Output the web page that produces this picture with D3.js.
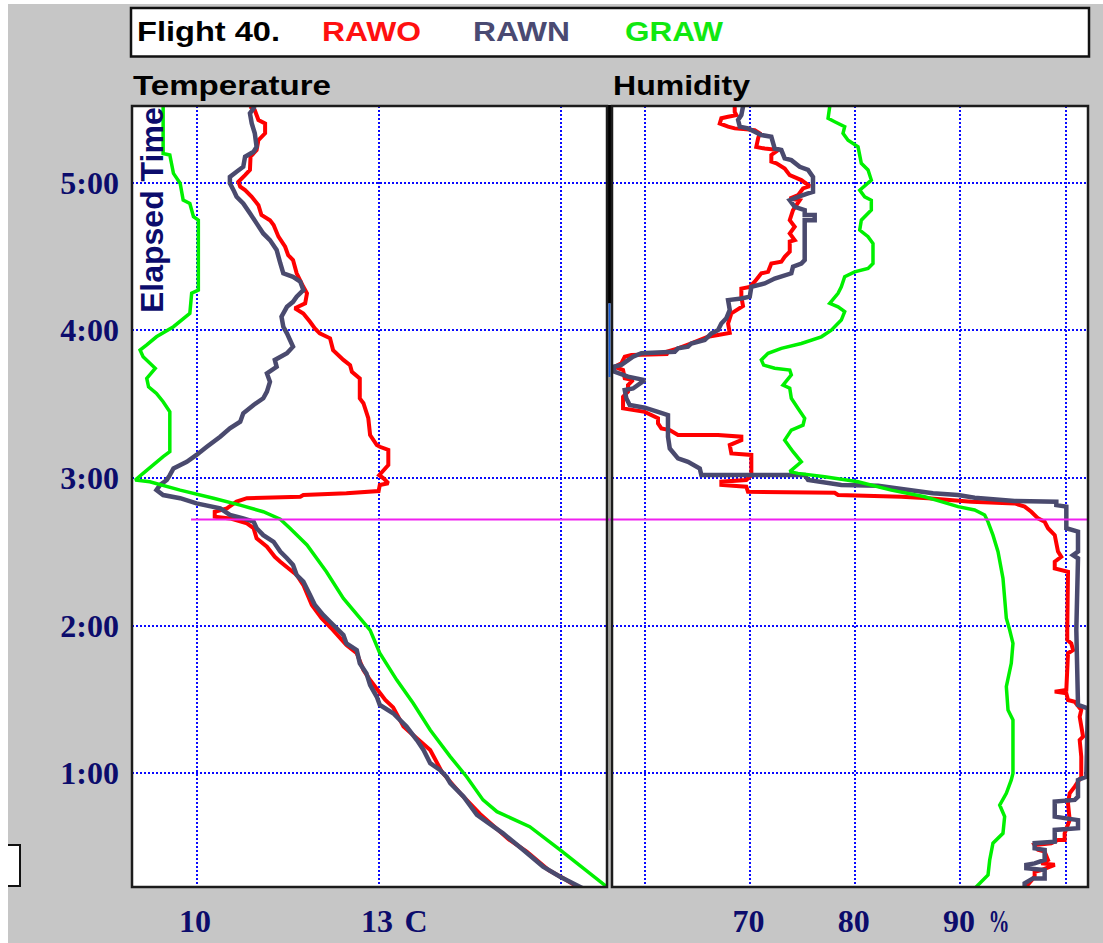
<!DOCTYPE html>
<html>
<head>
<meta charset="utf-8">
<script src="https://cdn.jsdelivr.net/npm/d3@7"></script>
<style>
  html, body { margin: 0; padding: 0; background: #c6c6c6; }
  svg { display: block; }
</style>
</head>
<body>
<svg id="chart" width="1103" height="943"></svg>
<script>
// ---- Flight 40 sounding: elapsed time (minutes) vs temperature / humidity ----

// axis ranges
const timeDomain = [13.8, 331.2];     // minutes, bottom -> top
const tempDomain = [8.937, 16.763];   // deg C
const humDomain  = [56.89, 102.12];   // % RH

// ticks and labels
const timeTicks  = [60, 120, 180, 240, 300];
const timeLabels = ["1:00", "2:00", "3:00", "4:00", "5:00"];
const tempGrid   = [10, 13, 16];
const tempLabels = [{ v: 10, t: "10" }, { v: 13, t: "13" }];
const tempUnit   = "C";
const humGrid    = [60, 70, 80, 90, 100];
const humLabels  = [{ v: 70, t: "70" }, { v: 80, t: "80" }, { v: 90, t: "90" }];
const humUnit    = "%";

// sondes
const seriesNames = ["RAWO", "RAWN", "GRAW"];
const markerTime  = 163.2;   // horizontal marker (minutes)
const markerStartTemp = 9.91;

// [minutes, deg C]
const rawoTemp = [
  [13.2,16.32],[17.4,16.04],[20.7,15.80],[28.2,15.44],[33.2,15.14],[43.5,14.67],[51.2,14.37],[56.6,14.18],
  [60.7,14.04],[69.5,13.85],[74.2,13.63],[79.0,13.41],[86.8,13.24],[89.8,13.11],[97.9,12.86],[102.0,12.75],
  [108.8,12.64],[112.1,12.47],[118.2,12.25],[123.0,12.06],[128.4,11.90],[136.5,11.76],[140.6,11.65],[146.0,11.38],
  [148.0,11.29],[152.1,11.16],[155.5,10.99],[159.6,10.94],[161.6,10.83],[163.6,10.55],[164.3,10.30],[166.3,10.30],
  [167.7,10.50],[170.4,10.66],[171.8,10.83],[172.4,11.71],[173.1,11.76],[173.8,12.47],[174.7,13.00],[177.2,13.02],
  [177.9,13.16],[179.9,13.08],[181.2,13.01],[185.3,13.16],[191.4,13.16],[192.7,13.02],[193.4,12.97],[197.5,12.86],
  [204.3,12.83],[210.4,12.75],[212.4,12.69],[220.5,12.69],[223.2,12.56],[225.9,12.53],[228.0,12.42],[232.0,12.25],
  [236.8,12.20],[238.8,12.03],[240.8,11.95],[243.5,11.87],[246.9,11.76],[249.0,11.62],[251.0,11.79],[255.1,11.82],
  [257.7,11.76],[263.2,11.65],[268.6,11.59],[270.6,11.51],[274.0,11.46],[278.1,11.35],[282.8,11.27],[284.8,11.21],
  [286.9,11.07],[290.9,11.02],[294.3,10.91],[297.0,10.80],[298.4,10.72],[300.4,10.69],[303.1,10.80],[305.2,10.88],
  [310.6,10.89],[313.3,10.99],[317.3,11.02],[320.1,11.13],[324.1,11.13],[325.5,11.02],[329.5,10.96],[331.0,10.88]
];
const rawnTemp = [
  [13.2,16.37],[18.0,15.99],[22.1,15.71],[28.9,15.38],[35.6,15.05],[43.1,14.62],[50.5,14.40],[56.0,14.18],
  [58.6,14.12],[61.4,14.01],[64.1,13.85],[69.5,13.74],[73.5,13.63],[79.0,13.46],[84.4,13.24],[87.8,13.02],
  [91.1,12.97],[95.9,12.86],[100.6,12.80],[104.7,12.69],[110.1,12.64],[112.8,12.47],[116.2,12.42],[121.6,12.20],
  [124.3,12.09],[128.4,11.95],[132.5,11.87],[137.9,11.76],[140.6,11.65],[144.7,11.59],[147.4,11.49],[150.1,11.38],
  [154.1,11.27],[156.8,11.10],[159.6,10.99],[162.3,10.94],[163.6,10.77],[165.0,10.55],[167.7,10.39],[169.7,10.00],
  [171.8,9.73],[173.1,9.45],[175.1,9.34],[177.2,9.40],[179.2,9.51],[181.2,9.56],[183.9,9.62],[186.6,9.84],
  [189.4,10.00],[192.7,10.17],[196.8,10.39],[200.2,10.55],[202.9,10.72],[206.3,10.77],[209.7,10.94],[212.4,11.10],
  [215.1,11.16],[219.1,11.21],[222.5,11.16],[225.2,11.32],[228.0,11.29],[230.7,11.49],[233.4,11.59],[236.1,11.54],
  [238.8,11.49],[241.5,11.43],[245.6,11.40],[249.6,11.49],[251.6,11.59],[253.7,11.65],[256.4,11.76],[259.8,11.71],
  [261.8,11.59],[263.2,11.43],[267.3,11.38],[272.7,11.32],[276.7,11.21],[279.4,11.10],[283.5,10.99],[287.6,10.88],
  [291.6,10.77],[294.3,10.66],[297.0,10.61],[299.8,10.55],[302.4,10.55],[304.5,10.66],[306.5,10.77],[310.6,10.80],
  [312.6,10.94],[314.6,10.99],[320.1,10.96],[324.1,10.91],[328.2,10.88],[331.0,10.96]
];
const grawTemp = [
  [13.9,16.76],[28.9,15.99],[38.3,15.49],[44.4,14.95],[49.2,14.72],[58.6,14.45],[66.8,14.18],[77.6,13.85],
  [88.5,13.57],[97.9,13.30],[108.8,13.02],[118.2,12.86],[131.1,12.42],[141.9,12.14],[152.8,11.82],[159.6,11.54],
  [163.3,11.38],[166.3,11.10],[169.0,10.72],[171.8,10.28],[175.1,9.73],[178.5,9.23],[179.2,8.99],[181.9,9.12],
  [188.7,9.45],[190.7,9.56],[206.9,9.56],[211.0,9.45],[214.4,9.34],[217.1,9.21],[220.5,9.18],[224.6,9.32],
  [229.3,9.12],[232.0,9.07],[234.1,9.18],[237.4,9.34],[241.5,9.62],[246.9,9.89],[255.1,9.92],[256.4,10.03],
  [284.8,10.03],[286.2,9.95],[291.6,9.89],[293.0,9.78],[299.8,9.73],[303.8,9.62],[311.3,9.56],[311.9,9.45],
  [331.0,9.45]
];

// [minutes, % RH]
const rawoHum = [
  [13.2,96.10],[18.0,97.05],[20.0,97.05],[20.7,97.68],[22.8,98.96],[23.4,97.68],[24.8,98.32],[28.2,98.00],
  [28.9,97.37],[30.9,97.05],[31.6,98.63],[32.9,99.27],[32.9,99.90],[35.6,99.90],[41.0,100.38],[47.8,100.22],
  [51.9,100.38],[54.6,100.86],[58.6,101.48],[66.8,101.48],[73.5,101.33],[74.9,101.65],[83.0,101.33],[85.7,101.48],
  [89.1,100.86],[89.8,100.22],[92.5,100.06],[93.2,98.96],[93.9,100.06],[108.8,100.22],[110.1,100.70],[112.8,100.53],
  [114.2,100.15],[118.2,100.15],[141.9,100.22],[143.3,98.96],[146.0,98.96],[148.0,99.58],[150.1,99.27],[156.8,98.96],
  [159.6,98.32],[162.2,98.00],[163.6,97.37],[166.3,96.73],[168.4,96.10],[169.7,95.15],[170.4,91.03],[171.8,86.92],
  [172.4,84.38],[173.1,78.37],[174.0,78.05],[174.4,69.81],[176.5,69.65],[177.2,67.28],[178.5,67.28],[179.2,69.65],
  [181.2,70.13],[189.4,70.13],[190.0,68.23],[193.4,68.08],[195.4,69.18],[196.8,69.18],[197.5,66.96],[197.5,63.16],
  [199.5,62.38],[200.2,61.58],[202.2,61.26],[204.3,61.26],[206.9,60.00],[208.3,57.94],[213.0,57.94],[215.1,58.41],
  [217.8,58.41],[219.8,58.89],[220.5,58.10],[223.9,57.94],[225.2,57.15],[226.6,57.78],[229.3,58.10],[230.0,58.73],
  [230.4,62.21],[231.3,62.05],[232.7,63.16],[234.7,64.43],[237.4,66.01],[238.1,66.96],[239.0,68.08],[242.8,67.92],
  [246.9,68.23],[249.9,69.34],[253.7,69.18],[257.0,69.18],[257.7,69.98],[259.8,70.45],[263.2,71.08],[263.8,71.72],
  [267.2,72.03],[267.9,72.98],[269.9,73.30],[272.0,73.78],[276.1,73.78],[276.7,74.25],[279.4,73.78],[282.1,74.25],
  [284.8,73.78],[288.9,74.09],[292.9,74.73],[293.6,73.78],[295.0,74.57],[297.7,75.04],[298.6,75.68],[301.1,74.88],
  [303.1,73.78],[305.8,73.30],[307.9,72.51],[308.6,72.03],[311.3,72.03],[313.3,72.67],[313.9,71.40],[314.6,70.60],
  [318.0,70.77],[320.1,70.93],[321.4,70.45],[322.1,68.55],[322.8,67.92],[324.1,67.13],[326.2,67.28],[326.8,67.92],
  [327.5,68.71],[328.8,68.55],[331.0,68.55]
];
const rawnHum = [
  [13.2,96.10],[15.3,96.10],[17.3,96.89],[17.3,98.00],[20.7,98.00],[21.4,96.26],[22.8,96.26],[23.4,97.05],
  [24.8,98.00],[28.9,98.00],[29.5,97.05],[31.6,97.05],[32.2,98.96],[37.0,98.96],[37.7,101.17],[41.0,101.17],
  [42.4,98.96],[48.5,98.96],[49.2,100.86],[50.5,101.17],[57.3,101.17],[58.6,101.96],[86.4,102.10],[87.8,101.17],
  [118.2,101.01],[147.4,101.17],[148.7,100.70],[150.1,101.17],[158.2,101.17],[159.6,100.06],[168.4,100.06],[169.0,99.11],
  [170.4,99.11],[170.7,95.15],[172.0,91.35],[173.1,89.77],[173.8,87.39],[176.9,82.17],[177.2,78.68],[179.2,75.52],
  [181.2,75.20],[181.2,65.38],[183.9,65.23],[186.6,64.11],[188.0,63.16],[192.0,62.38],[196.8,62.21],[205.6,62.21],
  [206.9,61.26],[208.6,60.00],[209.7,58.57],[212.4,58.25],[215.8,58.10],[216.4,58.89],[219.8,60.00],[221.2,58.41],
  [223.2,57.15],[225.2,56.99],[226.0,57.78],[229.3,58.89],[230.7,59.68],[231.3,62.85],[232.7,63.16],[233.4,64.11],
  [234.7,64.43],[236.1,65.70],[237.4,66.01],[238.8,66.33],[240.1,66.96],[242.8,67.28],[244.9,67.75],[248.3,68.08],
  [252.3,67.92],[253.0,69.18],[253.7,69.98],[257.7,70.13],[259.1,71.40],[261.1,72.35],[263.2,73.93],[265.9,74.09],
  [267.2,74.88],[268.6,75.20],[284.8,75.20],[284.8,76.15],[286.9,76.15],[286.9,75.20],[288.9,75.20],[290.2,74.25],
  [292.9,73.78],[294.3,74.57],[295.7,75.52],[296.3,75.99],[302.4,75.99],[305.2,75.52],[306.5,74.73],[309.2,73.93],
  [309.9,73.30],[313.3,72.98],[313.9,72.35],[318.7,72.03],[319.4,71.08],[320.7,70.45],[322.1,69.81],[322.8,69.03],
  [325.5,68.87],[327.5,69.18],[331.0,69.34]
];
const grawHum = [
  [13.2,91.35],[18.7,92.62],[24.8,92.78],[31.6,93.09],[35.6,94.04],[42.4,94.20],[47.1,93.73],[51.9,94.36],
  [57.3,94.83],[60.0,94.99],[81.7,94.99],[85.7,94.52],[95.2,94.36],[104.7,94.83],[112.8,94.99],[118.2,94.68],
  [123.0,94.36],[139.3,94.04],[150.1,93.57],[156.8,93.09],[162.2,92.62],[165.0,92.30],[167.0,91.35],[168.4,89.77],
  [170.4,88.18],[172.4,86.60],[175.1,83.43],[178.5,80.27],[180.5,77.10],[181.9,74.57],[182.6,73.78],[186.6,74.88],
  [190.7,74.09],[195.4,73.30],[199.5,73.93],[201.5,75.04],[204.3,75.20],[208.3,74.57],[212.4,73.93],[216.5,73.78],
  [217.8,73.14],[221.9,73.93],[223.9,73.78],[224.6,72.35],[225.9,71.30],[228.0,71.08],[230.7,71.72],[232.7,72.98],
  [234.7,74.88],[237.4,76.78],[240.1,77.73],[244.2,78.68],[247.6,79.00],[249.6,78.37],[251.0,77.58],[255.1,78.37],
  [257.7,78.68],[261.8,79.00],[263.8,79.95],[265.2,81.22],[267.2,81.69],[275.3,81.69],[278.1,81.22],[280.8,80.43],
  [284.8,80.58],[288.9,81.53],[292.9,81.53],[294.3,80.90],[297.0,80.43],[301.1,81.53],[305.2,81.22],[307.9,80.58],
  [314.6,80.27],[317.3,79.32],[320.1,78.84],[322.8,79.00],[324.8,78.05],[326.2,77.42],[331.0,77.58]
];

// ---- styling ----
const colors = { RAWO: "#ff0000", RAWN: "#4a4a6e", GRAW: "#00f000" };
const titleColors = { RAWO: "#ff1010", RAWN: "#4a4a72", GRAW: "#10e810" };
const navy = "#0c0c6c";
const gridBlue = "#0a0aff";

// ---- layout ----
const W = 1103, H = 943;
const plotTop = 106, plotBottom = 887;
const tempBox = { x0: 132, x1: 607 };
const humBox  = { x0: 612, x1: 1088 };

const svg = d3.select("#chart");
svg.append("rect").attr("width", W).attr("height", H).attr("fill", "#c6c6c6");

const y  = d3.scaleLinear().domain(timeDomain).range([plotBottom, plotTop]);
const xT = d3.scaleLinear().domain(tempDomain).range([tempBox.x0, tempBox.x1]);
const xH = d3.scaleLinear().domain(humDomain).range([humBox.x0, humBox.x1]);

// small box at lower left edge
svg.append("path")
  .attr("d", `M8,845 H20 V886 H8`)
  .attr("fill", "#ffffff").attr("stroke", "#111").attr("stroke-width", 2);

// white margins on the left and top edge
svg.append("rect").attr("x", 0).attr("y", 0).attr("width", 8).attr("height", H).attr("fill", "#fff");
svg.append("rect").attr("x", 0).attr("y", 0).attr("width", W).attr("height", 4).attr("fill", "#fff");

// ---- title box ----
svg.append("rect")
  .attr("x", 131).attr("y", 8).attr("width", 958).attr("height", 48.5)
  .attr("fill", "#fff").attr("stroke", "#111").attr("stroke-width", 2.5);

const titleFont = "'Liberation Sans', Arial, sans-serif";
function titleText(x, yb, txt, len, fill, weight) {
  svg.append("text")
    .attr("x", x).attr("y", yb)
    .attr("font-family", titleFont).attr("font-size", 27)
    .attr("font-weight", weight).attr("fill", fill)
    .attr("textLength", len).attr("lengthAdjust", "spacingAndGlyphs")
    .text(txt);
}
titleText(137, 41, "Flight 40.", 143, "#000", "bold");
const legendX = [322, 473, 625], legendLen = [99, 97, 98];
seriesNames.forEach((n, i) => titleText(legendX[i], 41, n, legendLen[i], titleColors[n], "bold"));

titleText(133, 95, "Temperature", 198, "#000", "bold");
titleText(613, 95, "Humidity", 137, "#000", "bold");

// ---- panels ----
function panel(box, id) {
  svg.append("rect")
    .attr("x", box.x0).attr("y", plotTop)
    .attr("width", box.x1 - box.x0).attr("height", plotBottom - plotTop)
    .attr("fill", "#fff");
  svg.append("clipPath").attr("id", id)
    .append("rect")
    .attr("x", box.x0).attr("y", plotTop)
    .attr("width", box.x1 - box.x0).attr("height", plotBottom - plotTop);
  return svg.append("g").attr("clip-path", `url(#${id})`);
}
const gT = panel(tempBox, "clipT");
const gH = panel(humBox, "clipH");

function grid(g, box, xs, vGrid) {
  g.selectAll("line.h").data(timeTicks).enter().append("line")
    .attr("x1", box.x0).attr("x2", box.x1)
    .attr("y1", d => Math.round(y(d))).attr("y2", d => Math.round(y(d)))
    .attr("stroke", gridBlue).attr("stroke-width", 2).attr("stroke-dasharray", "2,2");
  g.selectAll("line.v").data(vGrid).enter().append("line")
    .attr("x1", d => Math.round(xs(d))).attr("x2", d => Math.round(xs(d)))
    .attr("y1", plotTop).attr("y2", plotBottom)
    .attr("stroke", gridBlue).attr("stroke-width", 2).attr("stroke-dasharray", "2,2");
}
grid(gT, tempBox, xT, tempGrid);
grid(gH, humBox, xH, humGrid);

// ---- profiles ----
function profile(g, data, xs, color, width) {
  g.append("path").datum(data)
    .attr("fill", "none").attr("stroke", color).attr("stroke-width", width)
    .attr("stroke-linejoin", "miter").attr("stroke-miterlimit", 2)
    .attr("d", d3.line().x(d => xs(d[1])).y(d => y(d[0])));
}
profile(gT, rawoTemp, xT, colors.RAWO, 4);
profile(gT, rawnTemp, xT, colors.RAWN, 4.5);
profile(gT, grawTemp, xT, colors.GRAW, 3.5);
profile(gH, rawoHum, xH, colors.RAWO, 4);
profile(gH, rawnHum, xH, colors.RAWN, 4.5);
profile(gH, grawHum, xH, colors.GRAW, 3.5);

// ---- divider between panels ----
const divX = (tempBox.x1 + humBox.x0) / 2;
svg.append("rect").attr("x", tempBox.x1).attr("y", plotTop - 1)
  .attr("width", humBox.x0 - tempBox.x1).attr("height", y(251) - plotTop + 1).attr("fill", "#000");
svg.append("line").attr("x1", divX).attr("x2", divX).attr("y1", y(251)).attr("y2", y(221))
  .attr("stroke", "#1a5fd8").attr("stroke-width", 2);
svg.append("line").attr("x1", divX).attr("x2", divX).attr("y1", y(221)).attr("y2", y(37))
  .attr("stroke", "#9a9a90").attr("stroke-width", 1.5);

// ---- time marker ----
svg.append("line")
  .attr("x1", xT(markerStartTemp)).attr("x2", humBox.x1)
  .attr("y1", y(markerTime)).attr("y2", y(markerTime))
  .attr("stroke", "#f020f0").attr("stroke-width", 2);

// ---- frames ----
[tempBox, humBox].forEach(b => {
  svg.append("rect")
    .attr("x", b.x0).attr("y", plotTop)
    .attr("width", b.x1 - b.x0).attr("height", plotBottom - plotTop)
    .attr("fill", "none").attr("stroke", "#1c1c1c").attr("stroke-width", 2.5);
});

// ---- axis labels ----
const tickFont = "'Liberation Serif', 'Times New Roman', serif";
svg.selectAll("text.ty").data(timeTicks).enter().append("text")
  .attr("x", 119).attr("y", d => y(d) + 11)
  .attr("text-anchor", "end")
  .attr("font-family", tickFont).attr("font-size", 32).attr("font-weight", "bold")
  .attr("fill", navy)
  .text((d, i) => timeLabels[i]);

const labelBase = 932;
function xLabels(list, xs) {
  list.forEach(l => {
    svg.append("text")
      .attr("x", xs(l.v) - 1.5).attr("y", labelBase)
      .attr("text-anchor", "middle")
      .attr("font-family", tickFont).attr("font-size", 32).attr("font-weight", "bold")
      .attr("fill", navy).text(l.t);
  });
}
xLabels(tempLabels, xT);
xLabels(humLabels, xH);
svg.append("text")
  .attr("x", xT(13) + 26).attr("y", labelBase)
  .attr("font-family", tickFont).attr("font-size", 32).attr("font-weight", "bold")
  .attr("fill", navy).text(tempUnit);
svg.append("text")
  .attr("x", xH(90) + 28).attr("y", labelBase)
  .attr("font-family", tickFont).attr("font-size", 32).attr("font-weight", "bold")
  .attr("textLength", 21).attr("lengthAdjust", "spacingAndGlyphs")
  .attr("fill", navy).text(humUnit);

// vertical axis title inside the temperature panel
svg.append("text")
  .attr("transform", "translate(163,313) rotate(-90)")
  .attr("font-family", titleFont).attr("font-size", 32).attr("font-weight", "bold")
  .attr("fill", navy).text("Elapsed Time");
</script>
</body>
</html>
